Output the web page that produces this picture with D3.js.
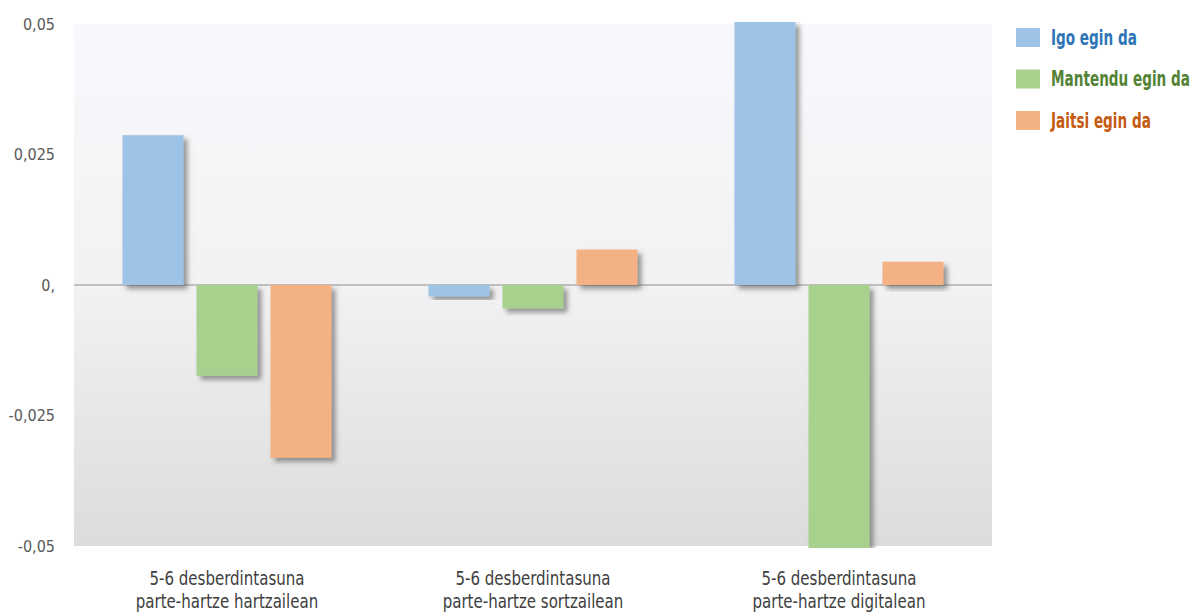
<!DOCTYPE html>
<html><head><meta charset="utf-8">
<script src="https://cdn.jsdelivr.net/npm/d3@7"></script>
<style>body{margin:0;background:#fff;} svg{display:block;} text{font-family:"DejaVu Sans Condensed","Liberation Sans Narrow",sans-serif;}</style>
</head><body><svg id="c" width="1196" height="614"></svg>
<script>
const categories = [["5-6 desberdintasuna","parte-hartze hartzailean"],["5-6 desberdintasuna","parte-hartze sortzailean"],["5-6 desberdintasuna","parte-hartze digitalean"]];
const seriesNames = ["Igo egin da","Mantendu egin da","Jaitsi egin da"];
const igo = [0.0287, -0.0022, 0.0505];
const mantendu = [-0.0174, -0.0045, -0.0505];
const jaitsi = [-0.0331, 0.0068, 0.00446];
const tickValues = [0.05, 0.025, 0, -0.025, -0.05];
const tickLabels = ["0,05","0,025","0,","-0,025","-0,05"];
const fills = ["#9dc3e6","#a9d18e","#f4b183"];
const textColors = ["#2e75b6","#548235","#c55a11"];

const series = [igo, mantendu, jaitsi];
const svg = d3.select("#c");
const L = 74, R = 992, T = 24, B = 546;

const defs = svg.append("defs");
const g = defs.append("linearGradient").attr("id","bg").attr("x1",0).attr("y1",0).attr("x2",0).attr("y2",1);
g.append("stop").attr("offset","0%").attr("stop-color","#f8f9fc");
g.append("stop").attr("offset","50%").attr("stop-color","#f2f2f4");
g.append("stop").attr("offset","100%").attr("stop-color","#dcdcdc");
const f = defs.append("filter").attr("id","sh").attr("x","-20%").attr("y","-20%").attr("width","150%").attr("height","150%");
f.append("feDropShadow").attr("dx",4).attr("dy",4).attr("stdDeviation",2.5).attr("flood-color","#555").attr("flood-opacity",0.6);
defs.append("clipPath").attr("id","clip").append("rect").attr("x",L).attr("y",T-2).attr("width",R-L+20).attr("height",B-T+4);

svg.append("rect").attr("x",L).attr("y",T).attr("width",R-L).attr("height",B-T).attr("fill","url(#bg)");

const y = d3.scaleLinear().domain([-0.05,0.05]).range([B,T]);
const x0 = d3.scaleBand().domain(d3.range(categories.length)).range([L,R]);
const x1 = d3.scaleBand().domain(d3.range(seriesNames.length)).range([42,264]).paddingInner(0.1757).paddingOuter(0.0878);

svg.append("line").attr("x1",L).attr("x2",R).attr("y1",y(0)).attr("y2",y(0)).attr("stroke","#c0c0c0").attr("stroke-width",2);

const bars = svg.append("g").attr("clip-path","url(#clip)");
categories.forEach((c,i)=>{
  series.forEach((s,j)=>{
    const v = s[i];
    bars.append("rect")
      .attr("x", x0(i)+x1(j))
      .attr("width", x1.bandwidth())
      .attr("y", y(Math.max(0,v)))
      .attr("height", Math.abs(y(v)-y(0)))
      .attr("fill", fills[j])
      .attr("filter","url(#sh)");
  });
});

const yAxis = d3.axisLeft(y).tickValues(tickValues).tickSize(0).tickPadding(0).tickFormat((d,i)=>tickLabels[i]);
const ya = svg.append("g").attr("transform",`translate(55,0)`).call(yAxis);
ya.select(".domain").remove();
ya.selectAll("text").attr("font-size",16).attr("fill","#595959").style("font-family",'"DejaVu Sans Condensed",sans-serif');

categories.forEach((c,i)=>{
  const cx = x0(i)+x0.bandwidth()/2;
  c.forEach((line,k)=>{
    svg.append("text").attr("x",cx).attr("y",585+k*23).attr("text-anchor","middle")
      .attr("font-size",19).attr("fill","#404040")
      .attr("transform",`translate(${cx},0) scale(0.88,1) translate(${-cx},0)`).text(line);
  });
});

const legend = svg.append("g");
const texts = [];
seriesNames.forEach((n,j)=>{
  const ly = 28 + j*41.5;
  legend.append("rect").attr("x",1016).attr("y",ly).attr("width",24).attr("height",19).attr("fill",fills[j]);
  texts.push(legend.append("text").attr("x",1051).attr("y",ly+17).attr("font-size",21).attr("font-weight","bold").attr("fill",textColors[j]).text(n));
});
const maxW = d3.max(texts, t=>t.node().getComputedTextLength());
const k = Math.min(1, 139/maxW);
texts.forEach(t=>t.attr("transform",`translate(1051,0) scale(${k},1) translate(-1051,0)`));
</script></body></html>
